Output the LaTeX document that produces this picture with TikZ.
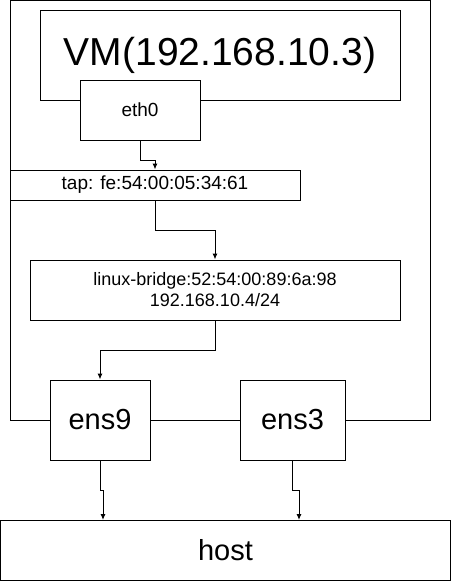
\documentclass[tikz,border=0pt]{standalone}
\usepackage{fontspec}
\setmainfont{Liberation Sans}
\usetikzlibrary{arrows.meta}
\begin{document}
\begin{tikzpicture}
[x=1pt, y=-1pt, line width=1pt,
every node/.style = {shape=rectangle, draw, fill=white,
	align=center, inner sep=0pt},
link/.style = {-{Latex[length=6pt,width=5pt]}},
big/.style = {font=\fontsize{39}{44}\selectfont},
mid/.style = {font=\fontsize{29}{34}\selectfont},
small/.style = {font=\fontsize{19}{21}\selectfont}]
 \useasboundingbox (0,0) rectangle (451,581);

  \node[minimum width=420pt, minimum height=419.5pt] (hyper) at (220,210.25) {};
  \node[big, minimum width=360pt, minimum height=90pt] (vm) at (220,55) {VM(192.168.10.3)};
  \node[small, minimum width=120pt, minimum height=60pt] (eth0) at (140,110) {eth0};
  \node[small, minimum width=290pt, minimum height=30pt] (tap) at (155,185) {tap: fe:54:00:05:34:61};
  \node[small, font=\fontsize{18}{21}\selectfont, minimum width=370pt, minimum height=60pt] (bridge) at (215,290)
  	{linux-bridge:52:54:00:89:6a:98\\192.168.10.4/24};
  \node[mid, minimum width=100pt, minimum height=80pt] (ens9) at (100,420) {ens9};
  \node[mid, minimum width=105pt, minimum height=80pt] (ens3) at (292.5,420) {ens3};
  \node[mid, minimum width=450pt, minimum height=60pt] (host) at (225.5,550) {host};
  \coordinate (in9) at (103,520);
  \coordinate (in3) at (299,520);

  \draw[link] (eth0.south) -- ++(0,20) -| (tap.north);
  \draw[link] (tap.south) -- ++(0,30) -| (bridge.north);
  \draw[link] (bridge.south) -- ++(0,30) -| (ens9.north);
  \draw[link] (ens9.south) -- ++(0,30) -| (in9);
  \draw[link] (ens3.south) -- ++(0,30) -| (in3);
\end{tikzpicture}
\end{document}
